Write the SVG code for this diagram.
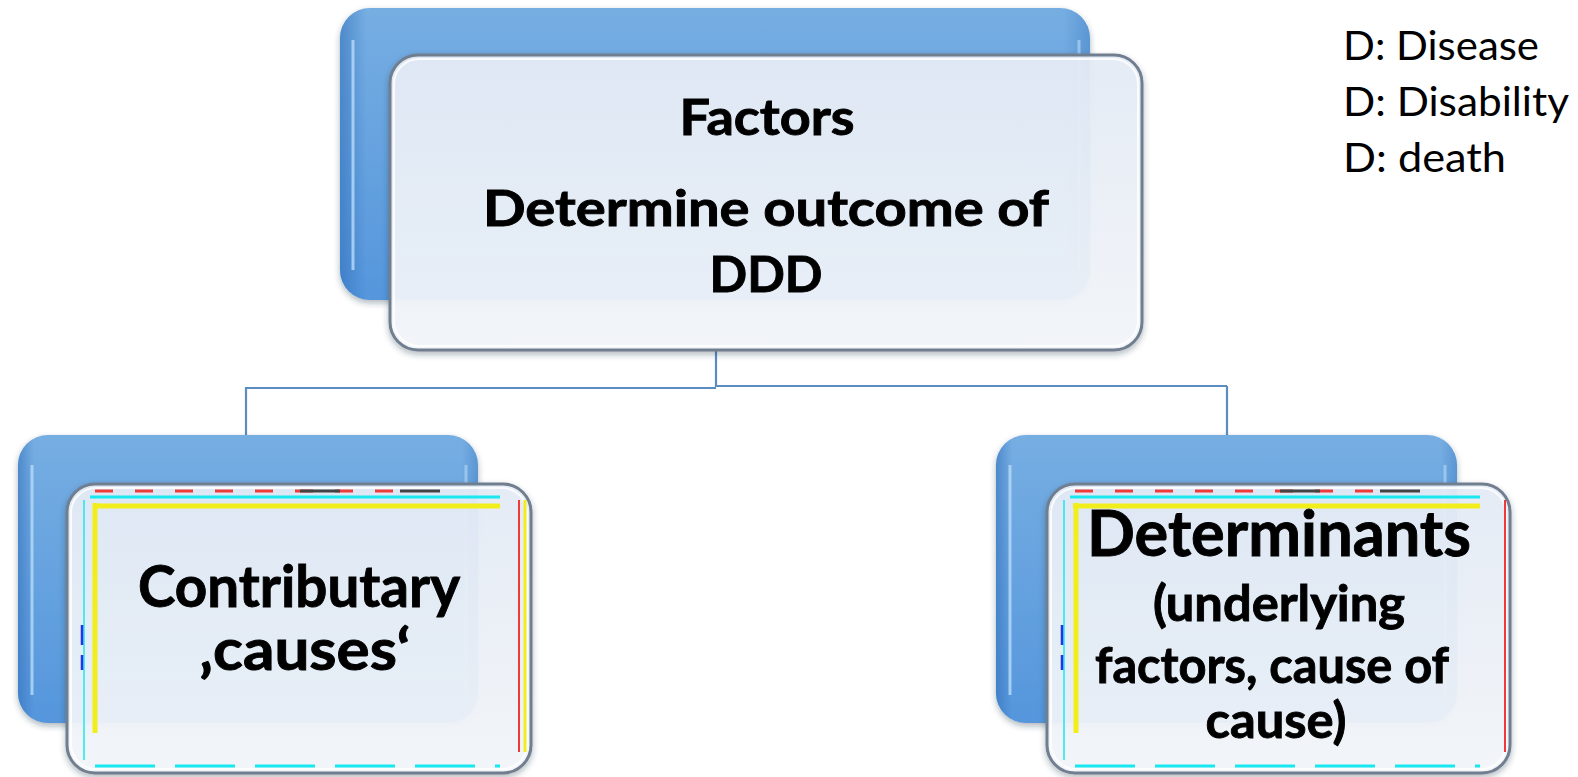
<svg xmlns="http://www.w3.org/2000/svg" width="1578" height="777" viewBox="0 0 1578 777">
<style>
.bt{font-family:Lato,"Open Sans","Liberation Sans",sans-serif;font-weight:bold;fill:#000;stroke:#000;stroke-width:0.9;text-anchor:middle}
.lg{font-family:Lato,"Open Sans","Liberation Sans",sans-serif;font-size:40px;fill:#000}
.front{fill:url(#gFront);stroke:#6f7e8f;stroke-width:3}
.inner{fill:none;stroke:#ffffff;stroke-width:2;opacity:.8}
.conn{fill:none;stroke:#5b8cc2;stroke-width:2.2}
.y{stroke:#f2ee1c;fill:none}
.c{stroke:#19e8f0;fill:none}
.r{stroke:#f03a3a;fill:none}
.k{stroke:#444;fill:none}
</style>
<defs>
<linearGradient id="gBlue" x1="0" y1="0" x2="0" y2="1"><stop offset="0" stop-color="#76aee2"/><stop offset="1" stop-color="#5596dc"/></linearGradient>
<linearGradient id="gEdge" x1="0" y1="0" x2="1" y2="0"><stop offset="0" stop-color="#2f6db8" stop-opacity=".55"/><stop offset=".035" stop-color="#2f6db8" stop-opacity="0"/><stop offset=".965" stop-color="#2f6db8" stop-opacity="0"/><stop offset="1" stop-color="#2f6db8" stop-opacity=".35"/></linearGradient>
<linearGradient id="gFront" x1="0" y1="0" x2="0" y2="1"><stop offset="0" stop-color="#e6edf7" stop-opacity=".93"/><stop offset="1" stop-color="#f4f7fb" stop-opacity=".93"/></linearGradient>
<filter id="sh" x="-5%" y="-5%" width="110%" height="115%"><feDropShadow dx="0" dy="3" stdDeviation="3" flood-color="#203040" flood-opacity=".35"/></filter>
</defs>

<g id="connectors">
<path class="conn" d="M716 350 V387 M246 388 H716 M716 386 H1227 M246 387 V435 M1227 386 V435"/>
</g>

<g id="node-factors">
<rect x="340" y="8" width="750" height="292" rx="30" fill="url(#gBlue)" filter="url(#sh)"/>
<rect x="340" y="8" width="750" height="292" rx="30" fill="url(#gEdge)"/>
<path d="M353 40 V270" stroke="#b9dcfa" stroke-width="3" opacity=".8"/>
<path d="M1079 40 V270" stroke="#b9dcfa" stroke-width="3" opacity=".6"/>
<rect x="390" y="55" width="752" height="295" rx="28" class="front" filter="url(#sh)"/>
<rect x="394" y="59" width="744" height="287" rx="25" class="inner"/>
<text class="bt" x="767" y="135" font-size="50" textLength="175" lengthAdjust="spacingAndGlyphs">Factors</text>
<text class="bt" x="766" y="226" font-size="50" textLength="566" lengthAdjust="spacingAndGlyphs">Determine outcome of</text>
<text class="bt" x="766" y="292" font-size="50" textLength="113" lengthAdjust="spacingAndGlyphs">DDD</text>
</g>

<g id="node-contributary">
<rect x="18" y="435" width="460" height="288" rx="30" fill="url(#gBlue)" filter="url(#sh)"/>
<rect x="18" y="435" width="460" height="288" rx="30" fill="url(#gEdge)"/>
<path d="M32 465 V695" stroke="#b9dcfa" stroke-width="3" opacity=".8"/>
<path d="M466 465 V695" stroke="#b9dcfa" stroke-width="3" opacity=".6"/>
<rect x="67" y="484" width="464" height="289" rx="28" class="front" filter="url(#sh)"/>
<rect x="71" y="488" width="456" height="281" rx="25" class="inner"/>
<path class="y" stroke-width="5" d="M95 503 V733 M93 506 H500"/>
<path class="c" stroke-width="3" d="M90 497 H500"/>
<path class="c" stroke-width="1.5" d="M84 500 V760"/>
<path d="M82 625 V645 M82 655 V670" stroke="#2233ee" stroke-width="2.5"/>
<path class="r" stroke-width="2" d="M519 500 V752"/>
<path class="y" stroke-width="3" d="M525 500 V752"/>
<path class="r" stroke-width="3" stroke-dasharray="18 22" d="M95 491 H400"/>
<path class="k" stroke-width="3" stroke-dasharray="40 60" d="M300 491 H500"/>
<path class="c" stroke-width="3" stroke-dasharray="60 20" d="M95 766 H500"/>
<text class="bt" x="299" y="607" font-size="57" textLength="322" lengthAdjust="spacingAndGlyphs">Contributary</text>
<text class="bt" x="305" y="670" font-size="57" textLength="211" lengthAdjust="spacingAndGlyphs">‚causes‘</text>
</g>

<g id="node-determinants">
<rect x="996" y="435" width="461" height="288" rx="30" fill="url(#gBlue)" filter="url(#sh)"/>
<rect x="996" y="435" width="461" height="288" rx="30" fill="url(#gEdge)"/>
<path d="M1010 465 V695" stroke="#b9dcfa" stroke-width="3" opacity=".8"/>
<path d="M1445 465 V695" stroke="#b9dcfa" stroke-width="3" opacity=".6"/>
<rect x="1047" y="484" width="463" height="289" rx="28" class="front" filter="url(#sh)"/>
<rect x="1051" y="488" width="455" height="281" rx="25" class="inner"/>
<path class="y" stroke-width="5" d="M1076 503 V733 M1073 506 H1480"/>
<path class="c" stroke-width="3" d="M1070 497 H1480"/>
<path class="c" stroke-width="1.5" d="M1064 500 V760"/>
<path d="M1062 625 V645 M1062 655 V670" stroke="#2233ee" stroke-width="2.5"/>
<path class="r" stroke-width="2" d="M1505 500 V752"/>
<path class="r" stroke-width="3" stroke-dasharray="18 22" d="M1075 491 H1380"/>
<path class="k" stroke-width="3" stroke-dasharray="40 60" d="M1280 491 H1480"/>
<path class="c" stroke-width="3" stroke-dasharray="60 20" d="M1075 766 H1480"/>
<text class="bt" x="1279" y="556" font-size="64" textLength="384" lengthAdjust="spacingAndGlyphs">Determinants</text>
<text class="bt" x="1279" y="621" font-size="50" textLength="252" lengthAdjust="spacingAndGlyphs">(underlying</text>
<text class="bt" x="1272" y="683" font-size="50" textLength="354" lengthAdjust="spacingAndGlyphs">factors, cause of</text>
<text class="bt" x="1276" y="738" font-size="50" textLength="141" lengthAdjust="spacingAndGlyphs">cause)</text>
</g>

<g id="legend">
<text class="lg" x="1343" y="60" textLength="196" lengthAdjust="spacingAndGlyphs">D: Disease</text>
<text class="lg" x="1343" y="116" textLength="226" lengthAdjust="spacingAndGlyphs">D: Disability</text>
<text class="lg" x="1343" y="172" textLength="163" lengthAdjust="spacingAndGlyphs">D: death</text>
</g>
</svg>
